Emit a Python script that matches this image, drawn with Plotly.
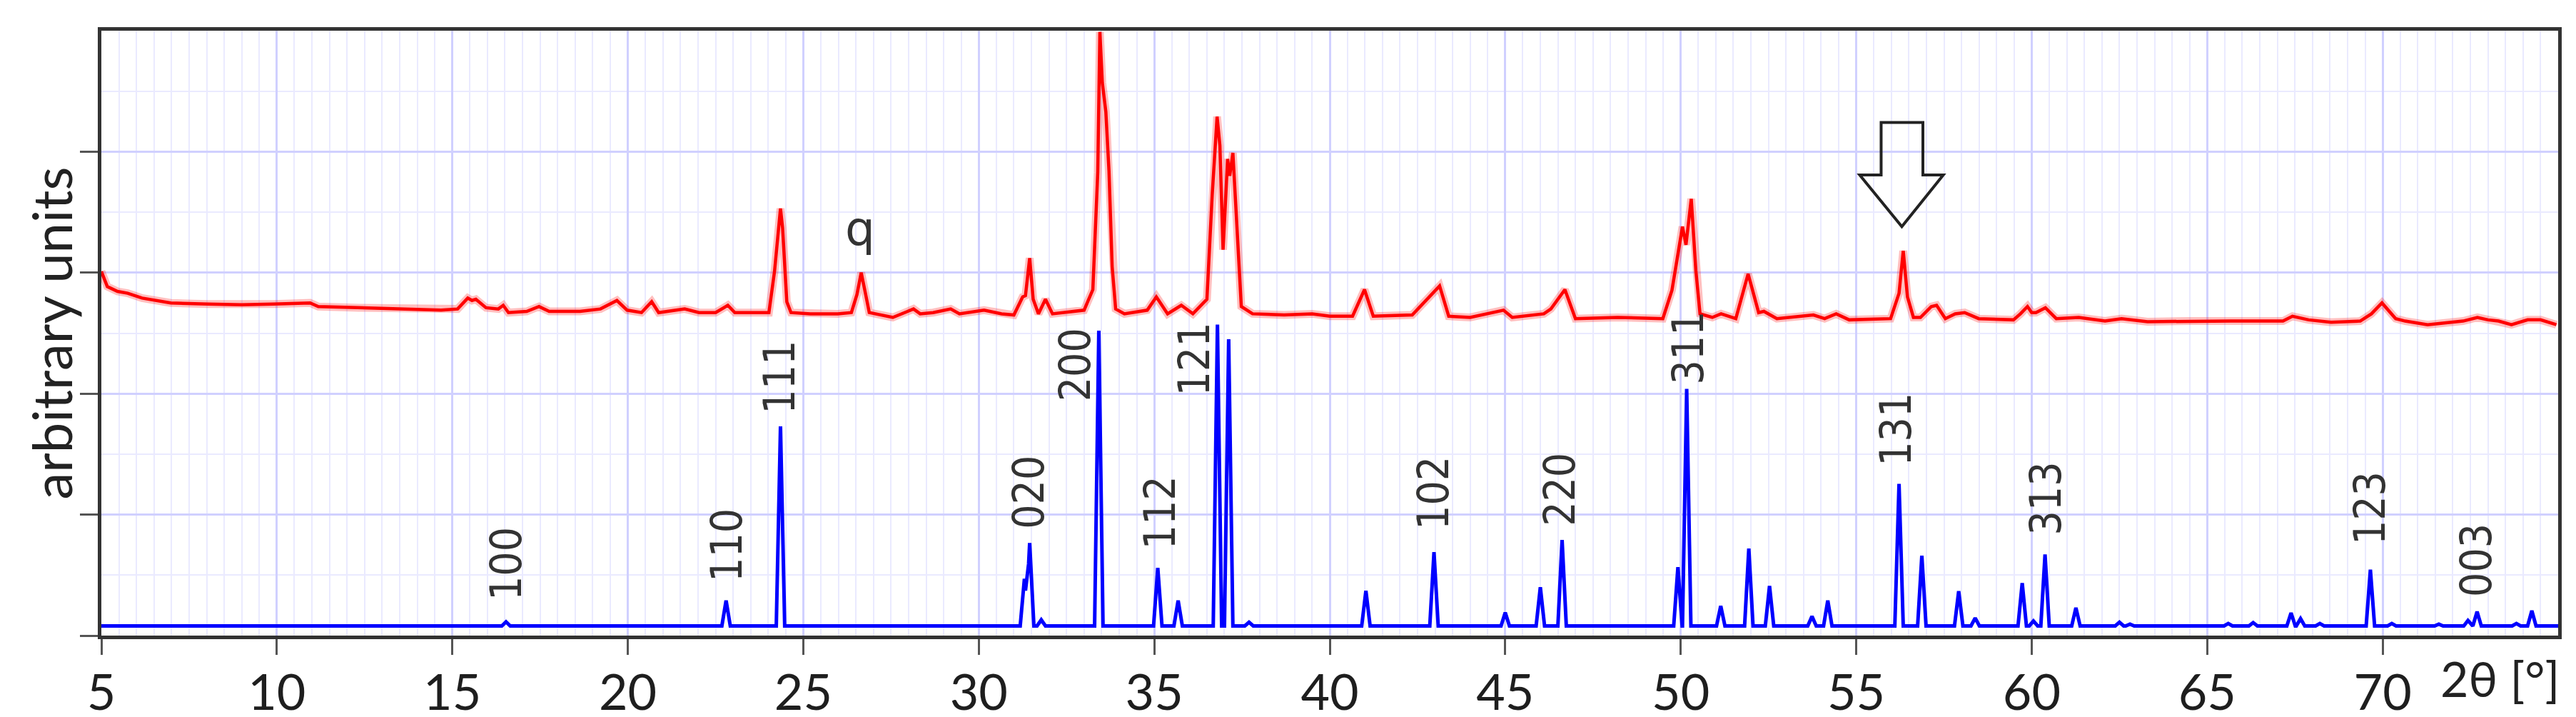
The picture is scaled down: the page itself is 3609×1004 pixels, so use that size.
import plotly.graph_objects as go

# ---------------- data ----------------
# measured pattern (red): 2theta [deg] and intensity [arb. units]
red_x = [5.0, 5.17, 5.46, 5.75, 6.16, 6.98, 8.03, 9.0, 9.9, 10.95, 11.18, 12.35, 13.52, 14.68,
         15.15, 15.44, 15.56, 15.67, 15.96, 16.31, 16.45, 16.6, 17.12, 17.47, 17.76, 18.64,
         19.22, 19.69, 19.98, 20.39, 20.68, 20.88, 21.62, 22.03, 22.5, 22.85, 23.05, 23.63,
         24.02, 24.18, 24.3, 24.35, 24.41, 24.53, 24.65, 25.2, 25.98, 26.37, 26.53, 26.65,
         26.77, 26.88, 27.55, 27.86, 28.14, 28.33, 28.7, 29.2, 29.45, 30.15, 30.65, 31.0,
         31.25, 31.33, 31.45, 31.55, 31.7, 31.9, 32.1, 33.0, 33.25, 33.39, 33.45, 33.52,
         33.62, 33.71, 33.8, 33.9, 34.15, 34.8, 35.06, 35.38, 35.77, 36.1, 36.5, 36.65,
         36.79, 36.87, 36.96, 37.09, 37.15, 37.24, 37.35, 37.48, 37.8, 38.7, 39.5, 40.0,
         40.65, 40.99, 41.24, 42.35, 43.13, 43.39, 44.0, 44.95, 45.2, 46.1, 46.3, 46.7,
         47.0, 48.2, 49.49, 49.75, 50.05, 50.15, 50.3, 50.43, 50.55, 50.9, 51.15, 51.57,
         51.92, 52.22, 52.37, 52.74, 53.78, 54.1, 54.43, 54.8, 55.98, 56.22, 56.34, 56.46,
         56.63, 56.83, 57.14, 57.29, 57.54, 57.82, 58.09, 58.49, 59.48, 59.68, 59.88, 60.0,
         60.12, 60.39, 60.7, 61.34, 62.09, 62.56, 63.3, 64.5, 65.69, 67.16, 67.43, 67.89,
         68.53, 69.36, 69.68, 69.98, 70.37, 70.64, 71.28, 72.29, 72.7, 73.0, 73.3, 73.67,
         74.13, 74.5, 74.95]
red_y = [3.01, 2.885, 2.845, 2.83, 2.79, 2.75, 2.74, 2.735, 2.74, 2.75, 2.72, 2.71, 2.70, 2.69,
         2.70, 2.79, 2.77, 2.78, 2.71, 2.70, 2.73, 2.67, 2.68, 2.72, 2.68, 2.68,
         2.70, 2.77, 2.69, 2.67, 2.76, 2.67, 2.70, 2.67, 2.67, 2.73, 2.67, 2.67,
         2.67, 3.01, 3.42, 3.53, 3.37, 2.76, 2.67, 2.66, 2.66, 2.67, 2.82, 3.00,
         2.83, 2.67, 2.63, 2.67, 2.70, 2.66, 2.67, 2.70, 2.66, 2.69, 2.66, 2.65,
         2.80, 2.81, 3.12, 2.78, 2.66, 2.78, 2.66, 2.69, 2.86, 3.83, 4.99, 4.57,
         4.33, 3.84, 3.05, 2.70, 2.66, 2.69, 2.80, 2.66, 2.73, 2.66, 2.78, 3.64,
         4.29, 4.05, 3.19, 3.94, 3.80, 3.99, 3.45, 2.72, 2.66, 2.65, 2.66, 2.64,
         2.64, 2.86, 2.64, 2.65, 2.89, 2.64, 2.63, 2.69, 2.63, 2.66, 2.70, 2.86,
         2.62, 2.63, 2.62, 2.855, 3.38, 3.23, 3.61, 3.02, 2.66, 2.63, 2.66, 2.62,
         2.99, 2.67, 2.68, 2.62, 2.65, 2.62, 2.66, 2.61, 2.62, 2.83, 3.18, 2.80,
         2.63, 2.63, 2.72, 2.73, 2.62, 2.66, 2.67, 2.62, 2.61, 2.66, 2.72, 2.67,
         2.67, 2.71, 2.62, 2.63, 2.60, 2.62, 2.595, 2.60, 2.60, 2.60, 2.64, 2.61,
         2.59, 2.60, 2.66, 2.75, 2.62, 2.60, 2.57, 2.60, 2.63, 2.61, 2.60, 2.57,
         2.61, 2.61, 2.57]

# reference pattern (blue): peak positions and heights, common baseline
blue_pos = [16.53, 22.8, 24.35, 31.3, 31.45, 31.78, 33.42, 35.1, 35.68, 36.8, 37.12, 37.7,
            41.03, 42.97, 45.0, 46.0, 46.62, 49.92, 50.17, 51.14, 51.94, 52.53, 53.74, 54.19,
            56.22, 56.87, 57.92, 58.39, 59.73, 60.05, 60.38, 61.26, 62.5, 62.8, 65.6, 66.31,
            67.39, 67.66, 68.21, 69.65, 70.26, 71.6, 72.43, 72.69, 73.81, 74.25]
blue_h = [0.114, 0.29, 1.73, 0.47, 0.765, 0.13, 2.52, 0.56, 0.29, 2.57, 2.45, 0.11,
          0.37, 0.69, 0.19, 0.40, 0.79, 0.565, 2.04, 0.245, 0.72, 0.41, 0.16, 0.29,
          1.254, 0.66, 0.367, 0.145, 0.434, 0.12, 0.67, 0.23, 0.11, 0.095, 0.10, 0.107,
          0.187, 0.14, 0.10, 0.545, 0.10, 0.095, 0.125, 0.198, 0.10, 0.205]
blue_base = 0.08
peak_halfwidth = 0.12

# Miller index labels: text, 2theta position, bottom of the label (arb. units)
hkl_text = ["100", "110", "111", "020", "200", "112", "121", "102", "220", "311",
            "131", "313", "123", "003"]
hkl_x = [16.53, 22.8, 24.33, 31.42, 32.74, 35.15, 36.13, 42.95, 46.55, 50.19,
         56.13, 60.39, 69.63, 72.66]
hkl_y = [0.28, 0.43, 1.82, 0.867, 1.92, 0.70, 1.97, 0.86, 0.89, 2.06,
         1.386, 0.818, 0.74, 0.31]

q_label = ("q", 26.62, 3.12)
x_ticks = [5, 10, 15, 20, 25, 30, 35, 40, 45, 50, 55, 60, 65, 70]
y_ticks = [0, 1, 2, 3, 4]

# arrow outline (2theta, arb. units) pointing at the peak near 56.3
arrow_x = [55.71, 56.90, 56.90, 57.48, 56.30, 55.10, 55.71]
arrow_y = [4.242, 4.242, 3.807, 3.807, 3.381, 3.807, 3.807]

# ---------------- build blue profile from peak table ----------------
pts = {5.0, 75.0}
for p in blue_pos:
    pts.update([round(p - peak_halfwidth, 4), p, round(p + peak_halfwidth, 4)])
blue_x = sorted(pts)
blue_y = []
for x in blue_x:
    v = blue_base
    for p, h in zip(blue_pos, blue_h):
        d = abs(x - p)
        if d < peak_halfwidth:
            v = max(v, h - (h - blue_base) * d / peak_halfwidth)
    blue_y.append(v)

# ---------------- figure ----------------
fig = go.Figure()
fig.add_trace(go.Scatter(x=red_x, y=red_y, mode="lines",
                         line=dict(color="rgba(255,0,0,0.25)", width=11),
                         hoverinfo="skip", showlegend=False))
fig.add_trace(go.Scatter(x=red_x, y=red_y, mode="lines",
                         line=dict(color="#ff0000", width=4.5), showlegend=False))
fig.add_trace(go.Scatter(x=blue_x, y=blue_y, mode="lines",
                         line=dict(color="#0000ff", width=5), showlegend=False))

path = "M " + " L ".join(f"{x},{y}" for x, y in zip(arrow_x, arrow_y)) + " Z"
fig.add_shape(type="path", path=path, xref="x", yref="y",
              line=dict(color="#222222", width=4), fillcolor="rgba(0,0,0,0)")

ann = []
for t, x, y in zip(hkl_text, hkl_x, hkl_y):
    ann.append(dict(x=x, y=y, xref="x", yref="y", text=t, showarrow=False,
                    textangle=-90, xanchor="center", yanchor="bottom",
                    font=dict(family="DejaVu Sans Condensed, DejaVu Sans", size=60, color="#333333")))
ann.append(dict(x=q_label[1], y=q_label[2], xref="x", yref="y", text=q_label[0], showarrow=False,
                xanchor="center", yanchor="bottom",
                font=dict(family="DejaVu Sans", size=66, color="#333333")))
ann.append(dict(x=73.35, y=-0.07, xref="x", yref="paper", text="2θ [°]", showarrow=False,
                xanchor="center", yanchor="middle",
                font=dict(family="Lato", size=68, color="#222222")))
ann.append(dict(x=-0.0206, y=0.5, xref="paper", yref="paper", text="arbitrary units",
                showarrow=False, textangle=-90, xanchor="center", yanchor="middle",
                font=dict(family="Lato", size=76, color="#222222")))

major_grid = "rgb(208,208,255)"
minor_grid = "rgb(234,234,255)"

fig.update_layout(
    width=3609, height=1004,
    margin=dict(l=134, r=33, t=35, b=122, autoexpand=False),
    paper_bgcolor="white", plot_bgcolor="white",
    annotations=ann,
    xaxis=dict(range=[5, 75], tickmode="array", tickvals=x_ticks,
               ticktext=[str(v) for v in x_ticks], automargin=False,
               ticks="outside", ticklen=22, tickwidth=3, tickcolor="#555555",
               ticklabelstandoff=-7,
               tickfont=dict(family="Lato", size=70, color="#1e1e1e"),
               showline=True, mirror=True, linecolor="#333333", linewidth=5,
               showgrid=True, gridcolor=major_grid, gridwidth=2.5, zeroline=False,
               minor=dict(tick0=0, dtick=0.5, showgrid=True, gridcolor=minor_grid,
                          gridwidth=1.5, ticks="")),
    yaxis=dict(range=[0, 5], tickmode="array", tickvals=y_ticks, showticklabels=False,
               automargin=False,
               ticks="outside", ticklen=25, tickwidth=3, tickcolor="#555555",
               showline=True, mirror=True, linecolor="#333333", linewidth=5,
               showgrid=True, gridcolor=major_grid, gridwidth=2.5, zeroline=False,
               minor=dict(tick0=0, dtick=0.5, showgrid=True, gridcolor=minor_grid,
                          gridwidth=1.5, ticks="")),
)

fig.write_html("out.html")
